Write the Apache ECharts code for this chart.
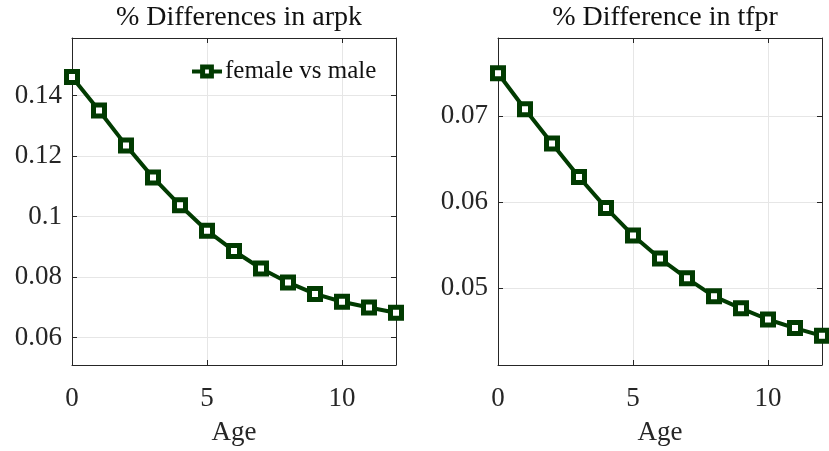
<!DOCTYPE html>
<html>
<head>
<meta charset="utf-8">
<script src="https://cdn.jsdelivr.net/npm/echarts@6/dist/echarts.min.js"></script>
<style>
  html, body { margin: 0; padding: 0; background: #fff; }
  #chart { width: 829px; height: 451px; }
</style>
</head>
<body>
<div id="chart"></div>
<script>
// Age groups on the horizontal axis
const ages = [0, 1, 2, 3, 4, 5, 6, 7, 8, 9, 10, 11, 12];
// Female vs male percentage differences
const arpkDiff = [0.1461, 0.1350, 0.1235, 0.1129, 0.1037, 0.0953, 0.0886, 0.0828, 0.0782, 0.0744, 0.0718, 0.0699, 0.0682];
const tfprDiff = [0.0750, 0.0708, 0.0668, 0.0629, 0.0593, 0.0561, 0.0534, 0.0511, 0.0490, 0.0476, 0.0463, 0.0453, 0.0444];
// Tick labels
const xTicks = [0, 5, 10];
const arpkTicks = [0.06, 0.08, 0.10, 0.12, 0.14];
const tfprTicks = [0.05, 0.06, 0.07];

const FONT = '"Liberation Serif", "DejaVu Serif", serif';
const GREEN = '#013b01';
const AXIS = '#262626';
const GRID = '#e6e6e6';
const TEXT = '#262626';

const pairs = (ys) => ages.map((a, i) => [a, ys[i]]);
const fmt = (v) => (+v.toFixed(4)).toString();

function xAxes(gridIndex) {
  return [
    {
      type: 'value', gridIndex, min: 0, max: 12,
      name: 'Age', nameLocation: 'middle', nameGap: 54,
      nameTextStyle: { fontFamily: FONT, fontSize: 27, color: TEXT },
      axisLine: { show: true, onZero: false, lineStyle: { color: AXIS, width: 1 } },
      axisTick: { show: true, inside: true, length: 5, customValues: xTicks, lineStyle: { color: AXIS } },
      axisLabel: { customValues: xTicks, fontFamily: FONT, fontSize: 27, color: TEXT, margin: 20 },
      splitLine: { show: true, lineStyle: { color: GRID, width: 1 } }
    },
    {
      type: 'value', gridIndex, min: 0, max: 12, position: 'top',
      axisLine: { show: true, onZero: false, lineStyle: { color: AXIS, width: 1 } },
      axisTick: { show: true, inside: true, length: 5, customValues: xTicks, lineStyle: { color: AXIS } },
      axisLabel: { show: false },
      splitLine: { show: false }
    }
  ];
}

function yAxes(gridIndex, min, max, ticks) {
  return [
    {
      type: 'value', gridIndex, min, max, position: 'left',
      axisLine: { show: true, onZero: false, lineStyle: { color: AXIS, width: 1 } },
      axisTick: { show: true, inside: true, length: 5, customValues: ticks, lineStyle: { color: AXIS } },
      axisLabel: { customValues: ticks, formatter: fmt, fontFamily: FONT, fontSize: 27, color: TEXT, margin: 10 },
      splitLine: { show: true, lineStyle: { color: GRID, width: 1 } }
    },
    {
      type: 'value', gridIndex, min, max, position: 'right',
      axisLine: { show: true, onZero: false, lineStyle: { color: AXIS, width: 1 } },
      axisTick: { show: true, inside: true, length: 5, customValues: ticks, lineStyle: { color: AXIS } },
      axisLabel: { show: false },
      splitLine: { show: false }
    }
  ];
}

function lineSeries(name, xi, yi, ys) {
  return {
    name, type: 'line', xAxisIndex: xi, yAxisIndex: yi,
    data: pairs(ys),
    symbol: 'rect', symbolSize: 11,
    lineStyle: { color: GREEN, width: 4 },
    itemStyle: { color: '#ffffff', borderColor: GREEN, borderWidth: 5 },
    animation: false, z: 3
  };
}

const chart = echarts.init(document.getElementById('chart'), null, { renderer: 'canvas' });
chart.setOption({
  backgroundColor: '#ffffff',
  animation: false,
  title: [
    { text: '% Differences in arpk', left: 234, top: -1, textAlign: 'center',
      textStyle: { fontFamily: FONT, fontSize: 28, fontWeight: 'normal', color: '#111' } },
    { text: '% Difference in tfpr', left: 660, top: -1, textAlign: 'center',
      textStyle: { fontFamily: FONT, fontSize: 28, fontWeight: 'normal', color: '#111' } }
  ],
  legend: {
    data: ['female vs male'],
    left: 185, top: 54,
    itemWidth: 30, itemHeight: 11, itemGap: 4,
    lineStyle: { color: GREEN, width: 4 },
    itemStyle: { color: '#ffffff', borderColor: GREEN, borderWidth: 5 },
    textStyle: { fontFamily: FONT, fontSize: 25, color: '#111', padding: [0, 0, 0, -2] },
    selectedMode: false
  },
  grid: [
    { left: 72, top: 38, width: 324, height: 338, show: false },
    { left: 498, top: 38, width: 324, height: 338, show: false }
  ],
  xAxis: [...xAxes(0), ...xAxes(1)],
  yAxis: [...yAxes(0, 0.0509, 0.1590, arpkTicks), ...yAxes(1, 0.0410, 0.0791, tfprTicks)],
  series: [
    lineSeries('female vs male', 0, 0, arpkDiff),
    lineSeries('tfpr', 2, 2, tfprDiff)
  ]
});
</script>
</body>
</html>
